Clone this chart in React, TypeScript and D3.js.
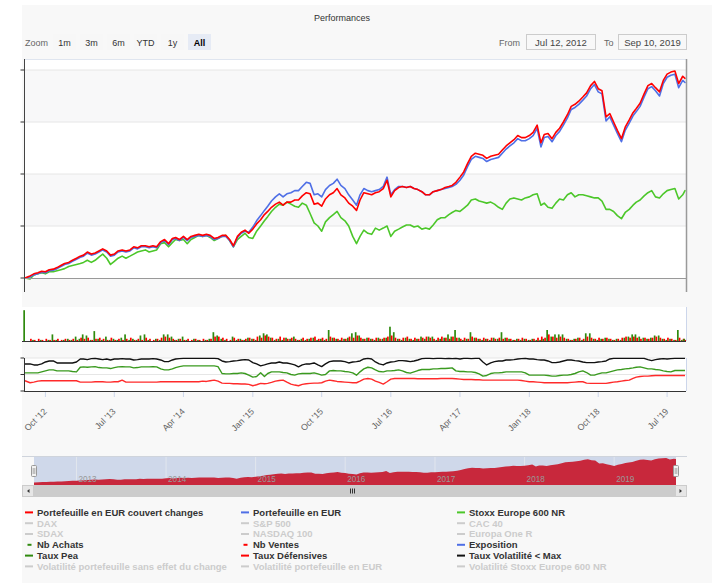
import React from "react";
import * as d3 from "d3";

// ---------- DATA ----------
const START = new Date(2012, 6, 12);
const END = new Date(2019, 8, 10);

function buildDates(): Date[] {
  const out: Date[] = [START];
  for (let y = 2012; y <= 2019; y++) {
    for (let m = 0; m < 12; m++) {
      if (y === 2012 && m < 7) continue;
      if (y === 2019 && m > 7) continue;
      out.push(new Date(y, m, 1), new Date(y, m, 16));
    }
  }
  out.push(new Date(2019, 8, 1), END);
  return out;
}
const dates = buildDates();

// Portefeuille en EUR couvert changes (%)
const portCouvert = [
  0, 2, 4, 5, 6.5, 6, 8, 8.5, 10, 12,
  14, 15, 17, 19, 21, 22, 25, 23, 24, 26,
  28, 26, 22, 23, 26, 27, 26, 27, 30, 29,
  31, 31, 30, 31, 30, 35, 37, 33, 38, 39,
  37, 40, 37, 40, 41, 42, 41, 42, 41, 38,
  39, 41, 41, 37, 31, 40, 44, 46, 43, 47,
  52, 56, 61, 64, 68, 71, 73, 70, 73, 73,
  75, 75, 79, 82, 81, 71, 72, 69, 76, 80,
  82, 86, 80, 77, 72, 69, 65, 75, 82, 81,
  80, 82, 83, 86, 94, 78, 84, 87, 88, 87,
  88, 86, 85, 83, 80, 80, 83, 84, 85, 87,
  88, 89, 92, 97, 102, 110, 117, 120, 119, 118,
  115, 117, 118, 119, 123, 127, 130, 133, 137, 135,
  135, 137, 140, 147, 130, 138, 139, 134, 140, 144,
  150, 157, 165, 167, 170, 174, 178, 185, 189, 182,
  180, 155, 158, 150, 142, 134, 145, 152, 159, 163,
  168, 177, 185, 187, 183, 179, 190, 196, 198, 199,
  187, 194, 192,
];

// Portefeuille en EUR (%)
const portEur = [
  0, 1, 3, 4, 5.5, 5, 7, 7.5, 9, 11,
  13, 14, 16, 18, 20, 21, 24, 22, 23, 25,
  27, 25, 21, 22, 25, 26, 25, 26, 29, 28,
  30, 30, 29, 30, 29, 34, 36, 32, 37, 38,
  36, 39, 36, 39, 40, 41, 40, 41, 40, 37,
  38, 40, 40, 36, 30, 39, 43, 45, 44, 49,
  55, 60, 65, 69, 74, 78, 81, 78, 81, 82,
  84, 84, 88, 92, 91, 80, 81, 78, 85, 89,
  91, 95, 89, 86, 80, 75, 70, 80, 86, 84,
  83, 84, 85, 88, 97, 80, 85, 88, 88, 87,
  88, 86, 85, 83, 80, 80, 83, 84, 85, 86,
  87, 88, 90, 94, 99, 107, 114, 117, 116, 115,
  112, 114, 115, 116, 120, 124, 127, 130, 134, 132,
  132, 134, 137, 144, 126, 135, 136, 131, 137, 141,
  147, 154, 162, 164, 167, 171, 175, 182, 186, 179,
  177, 151, 155, 147, 139, 131, 142, 149, 156, 160,
  165, 174, 182, 184, 180, 175, 187, 193, 195, 196,
  183, 190, 188,
];

// Stoxx Europe 600 NR (%)
const stoxx600 = [
  0, -1, 3, 4, 5, 4, 6, 6, 7, 8,
  9, 11, 12, 13, 14, 15, 17, 15, 17, 20,
  23, 19, 13, 16, 19, 21, 19, 21, 23, 25,
  26, 27, 25, 26, 27, 33, 34, 30, 34, 37,
  36, 37, 33, 37, 39, 41, 40, 41, 39, 36,
  38, 40, 41, 36, 30, 37, 40, 43, 39, 38,
  45, 50, 55, 59, 64, 68, 71, 70, 73, 71,
  69, 68, 72, 70, 62, 53, 50, 45, 54, 58,
  61, 64, 58, 55, 50, 40, 33, 40, 46, 43,
  42, 48, 46, 48, 50, 40, 45, 47, 49, 51,
  51, 49, 50, 47, 48, 47, 51, 56, 58, 58,
  61, 63, 65, 64, 67, 70, 75, 76, 74, 73,
  72, 73, 71, 68, 66, 72, 76, 77, 76, 75,
  77, 78, 80, 81, 70, 72, 68, 67, 72, 76,
  75, 80, 82, 78, 80, 80, 79, 78, 77, 77,
  74, 66, 66, 64, 60, 57, 63, 66, 70, 73,
  75, 79, 82, 84, 78, 77, 81, 84, 85, 86,
  76, 80, 84,
];

// Nb Achats
const nbAchats = [
  28, 0, 1, 0, 1, 0, 1, 6, 1, 0,
  1, 2, 1, 4, 2, 6, 5, 1, 9, 2,
  1, 4, 1, 2, 1, 3, 6, 1, 2, 1,
  5, 6, 1, 0, 2, 1, 6, 6, 4, 1,
  2, 4, 1, 0, 2, 1, 0, 1, 2, 8,
  5, 2, 1, 0, 4, 1, 2, 1, 3, 2,
  1, 5, 7, 6, 3, 1, 2, 1, 3, 2,
  4, 1, 2, 1, 2, 3, 1, 2, 1, 10,
  3, 2, 1, 2, 3, 7, 8, 5, 2, 3,
  2, 1, 3, 2, 3, 13, 8, 2, 1, 3,
  2, 1, 2, 4, 2, 4, 4, 1, 2, 3,
  6, 4, 10, 3, 1, 2, 8, 3, 2, 1,
  2, 1, 3, 2, 8, 3, 2, 1, 2, 1,
  2, 1, 2, 1, 1, 2, 10, 4, 6, 6,
  6, 2, 1, 2, 3, 1, 7, 7, 2, 1,
  2, 3, 2, 1, 2, 1, 3, 4, 6, 6,
  4, 3, 2, 3, 5, 5, 2, 1, 2, 1,
  10, 1, 2,
];

// Nb Ventes
const nbVentes = [
  0, 2, 1, 2, 1, 2, 1, 1, 2, 1,
  2, 1, 2, 1, 3, 2, 3, 1, 2, 3,
  2, 1, 3, 1, 2, 1, 2, 3, 1, 2,
  1, 3, 2, 1, 2, 3, 4, 3, 2, 1,
  2, 1, 2, 1, 2, 1, 2, 1, 2, 4,
  4, 3, 2, 1, 3, 2, 1, 2, 3, 2,
  4, 3, 5, 4, 3, 2, 4, 3, 2, 3,
  2, 1, 3, 2, 3, 4, 2, 3, 2, 4,
  3, 2, 3, 2, 4, 3, 5, 3, 2, 3,
  2, 3, 2, 3, 4, 5, 3, 2, 3, 4,
  2, 3, 2, 3, 4, 3, 2, 3, 4, 3,
  2, 4, 3, 2, 3, 2, 4, 3, 2, 3,
  2, 3, 2, 3, 2, 3, 2, 1, 2, 3,
  2, 1, 2, 3, 4, 3, 6, 4, 3, 4,
  3, 2, 1, 2, 3, 2, 4, 3, 2, 3,
  2, 3, 2, 1, 2, 3, 4, 3, 4, 3,
  2, 3, 2, 3, 4, 3, 2, 3, 2, 1,
  3, 2, 1,
];

// Taux Volatilité < Max (%)
const tauxVolMax = [
  82, 82, 79, 79, 82, 88, 91, 91, 85, 85,
  85, 85, 85, 88, 97, 97, 95, 98, 99, 97,
  95, 97, 94, 97, 97, 98, 97, 97, 94, 95,
  97, 97, 97, 98, 97, 94, 89, 89, 94, 97,
  98, 99, 99, 99, 99, 99, 99, 99, 99, 99,
  98, 91, 88, 89, 91, 92, 94, 95, 94, 86,
  82, 76, 79, 82, 85, 85, 88, 85, 85, 82,
  79, 73, 79, 82, 82, 85, 79, 74, 82, 89,
  91, 91, 91, 89, 85, 88, 89, 91, 97, 99,
  97, 88, 82, 79, 85, 88, 89, 92, 92, 91,
  89, 91, 94, 98, 99, 99, 98, 99, 99, 98,
  99, 98, 99, 97, 99, 99, 98, 99, 99, 88,
  79, 85, 89, 91, 91, 94, 94, 95, 97, 98,
  99, 97, 97, 95, 94, 94, 91, 86, 86, 88,
  91, 94, 94, 92, 91, 88, 86, 86, 86, 88,
  89, 91, 97, 99, 99, 99, 99, 99, 99, 99,
  99, 99, 95, 92, 95, 97, 98, 97, 98, 99,
  99, 99, 99,
];

// Taux Pea (%)
const tauxPea = [
  55, 55, 55, 55, 58, 61, 64, 64, 61, 61,
  61, 61, 59, 58, 72, 73, 72, 73, 74, 71,
  70, 70, 68, 71, 73, 74, 73, 73, 70, 71,
  73, 73, 73, 74, 73, 67, 64, 64, 67, 71,
  74, 76, 76, 76, 76, 76, 76, 76, 76, 76,
  74, 53, 52, 52, 53, 53, 55, 53, 48, 42,
  44, 55, 44, 53, 58, 58, 58, 56, 55, 50,
  48, 52, 53, 53, 53, 55, 52, 48, 50, 61,
  62, 61, 61, 59, 58, 55, 48, 58, 67, 72,
  70, 64, 59, 58, 61, 61, 62, 64, 61, 56,
  54, 58, 62, 65, 65, 65, 67, 67, 68, 68,
  69, 70, 61, 59, 59, 58, 58, 56, 52, 45,
  47, 53, 55, 55, 56, 58, 58, 58, 58, 58,
  55, 48, 48, 48, 48, 48, 47, 45, 45, 47,
  48, 48, 50, 53, 58, 61, 56, 48, 48, 52,
  55, 55, 58, 61, 64, 65, 67, 68, 70, 72,
  73, 70, 67, 67, 65, 64, 61, 59, 58, 62,
  62, 62, 62,
];

// Taux Défensives (%)
const tauxDefensives = [
  31, 25, 27, 30, 31, 31, 31, 31, 31, 31,
  31, 31, 31, 31, 27, 27, 27, 27, 28, 28,
  28, 27, 27, 28, 28, 33, 27, 27, 27, 27,
  27, 27, 27, 27, 27, 28, 28, 28, 28, 28,
  28, 28, 28, 28, 28, 28, 30, 29, 31, 33,
  30, 24, 23, 23, 22, 22, 21, 21, 20, 16,
  19, 23, 22, 23, 26, 30, 32, 33, 27, 21,
  18, 16, 20, 22, 23, 24, 24, 25, 30, 33,
  31, 29, 28, 27, 26, 25, 25, 30, 36, 38,
  36, 30, 26, 21, 28, 36, 38, 38, 38, 38,
  38, 38, 37, 37, 37, 37, 37, 37, 38, 38,
  38, 38, 37, 36, 35, 35, 35, 34, 34, 33,
  33, 33, 33, 33, 33, 33, 33, 33, 33, 32,
  30, 28, 28, 27, 26, 25, 25, 25, 25, 25,
  25, 25, 26, 27, 28, 28, 24, 23, 23, 23,
  23, 23, 25, 27, 28, 30, 32, 33, 38, 42,
  44, 45, 45, 46, 47, 47, 47, 47, 47, 47,
  47, 47, 47,
];

const mainTicks = [0, 50, 100, 150, 200];
const lowTicks = [0, 50, 100];
const xTickDates = [
  new Date(2012, 9, 1), new Date(2013, 6, 1), new Date(2014, 3, 1), new Date(2015, 0, 1),
  new Date(2015, 9, 1), new Date(2016, 6, 1), new Date(2017, 3, 1), new Date(2018, 0, 1),
  new Date(2018, 9, 1), new Date(2019, 6, 1),
];
const xTickLabels = ["Oct '12", "Jul '13", "Apr '14", "Jan '15", "Oct '15", "Jul '16", "Apr '17", "Jan '18", "Oct '18", "Jul '19"];
const navYears = [2013, 2014, 2015, 2016, 2017, 2018, 2019];
const zoomButtons = ["1m", "3m", "6m", "YTD", "1y", "All"];

const legendItems: { label: string; color: string; active: boolean; short?: boolean }[] = [
  { label: "Portefeuille en EUR couvert changes", color: "#ff0000", active: true },
  { label: "Portefeuille en EUR", color: "#4f6fe6", active: true },
  { label: "Stoxx Europe 600 NR", color: "#4cc72a", active: true },
  { label: "DAX", color: "#cccccc", active: false },
  { label: "S&P 500", color: "#cccccc", active: false },
  { label: "CAC 40", color: "#cccccc", active: false },
  { label: "SDAX", color: "#cccccc", active: false },
  { label: "NASDAQ 100", color: "#cccccc", active: false },
  { label: "Europa One R", color: "#cccccc", active: false },
  { label: "Nb Achats", color: "#2f8a0e", active: true, short: true },
  { label: "Nb Ventes", color: "#ff0000", active: true, short: true },
  { label: "Exposition", color: "#4f6fe6", active: true },
  { label: "Taux Pea", color: "#2f8a0e", active: true },
  { label: "Taux Défensives", color: "#ff0000", active: true },
  { label: "Taux Volatilité < Max", color: "#111111", active: true },
  { label: "Volatilité portefeuille sans effet du change", color: "#cccccc", active: false },
  { label: "Volatilité portefeuille en EUR", color: "#cccccc", active: false },
  { label: "Volatilité Stoxx Europe 600 NR", color: "#cccccc", active: false },
];

// ---------- CHART ----------
const FONT = '"Liberation Sans", Arial, Helvetica, sans-serif';

export default function App() {
  const x = d3.scaleTime().domain([START, END]).range([25, 685]);
  const yMain = d3.scaleLinear().domain([0, 200]).range([278, 70]);
  const yBar = d3.scaleLinear().domain([0, 30]).range([341, 308]);
  const yLow = d3.scaleLinear().domain([0, 100]).range([391, 358]);
  const xNav = d3.scaleTime().domain([START, END]).range([34, 676]);
  const yNav = d3.scaleLinear().domain([-20, 200]).range([485, 458]);

  const n = Math.min(dates.length, portCouvert.length);
  const idx = d3.range(n);

  const lineOf = (vals: number[], ys: d3.ScaleLinear<number, number>) =>
    d3.line<number>().x((i) => x(dates[i])).y((i) => ys(vals[i]))(idx.filter((i) => i < vals.length)) || "";

  const navArea =
    d3.area<number>().x((i) => xNav(dates[i])).y0(485).y1((i) => yNav(portCouvert[i]))(idx) || "";

  const colW = 1.7;
  const legendCols = [25, 241, 457];
  const legendRow0 = 515.7;
  const legendRowH = 10.8;

  return (
    <div style={{ position: "absolute", left: 0, top: 0 }}>
      <svg width={714} height={583} style={{ display: "block", fontFamily: FONT }}>
        <rect x={0} y={0} width={714} height={583} fill="#ffffff" />
        <rect x={22} y={5} width={690} height={578} fill="#f8f8f8" />

        {/* Title */}
        <text x={342} y={21} textAnchor="middle" fontSize={9} fill="#333333">Performances</text>

        {/* Range selector */}
        <text x={25} y={46} fontSize={9} fill="#666666">Zoom</text>
        {zoomButtons.map((b, i) => {
          const bx = 53 + i * 27;
          const sel = b === "All";
          return (
            <g key={b}>
              <rect x={bx} y={34} width={23} height={16} fill={sel ? "#e6ebf5" : "#f7f7f7"} />
              <text x={bx + 11.5} y={46} textAnchor="middle" fontSize={9} fill={sel ? "#000000" : "#333333"} fontWeight={sel ? "bold" : "normal"}>{b}</text>
            </g>
          );
        })}
        <text x={499} y={46} fontSize={9} fill="#666666">From</text>
        <rect x={526.5} y={34.5} width={69} height={15} fill="#f8f8f8" stroke="#cccccc" />
        <text x={561} y={46} textAnchor="middle" fontSize={9.5} fill="#444444">Jul 12, 2012</text>
        <text x={604} y={46} fontSize={9} fill="#666666">To</text>
        <rect x={618.5} y={34.5} width={68} height={15} fill="#f8f8f8" stroke="#cccccc" />
        <text x={652.5} y={46} textAnchor="middle" fontSize={9.5} fill="#444444">Sep 10, 2019</text>

        {/* Main plot */}
        <rect x={24} y={59} width={662} height={219} fill="#ffffff" />
        {mainTicks.slice(0, -1).map((t, i) =>
          i % 2 === 1 ? (
            <rect key={"band" + t} x={24} y={yMain(t + 50)} width={662} height={yMain(t) - yMain(t + 50)} fill="#f8f8f9" />
          ) : null
        )}
        <line x1={24} x2={686} y1={59.5} y2={59.5} stroke="#dfe5ef" />
        {mainTicks.map((t) => (
          <g key={"mt" + t}>
            {t > 0 && <line x1={24} x2={686} y1={yMain(t)} y2={yMain(t)} stroke="#e6e6e6" />}
            <line x1={20.5} x2={24} y1={yMain(t)} y2={yMain(t)} stroke="#333333" />
          </g>
        ))}
        <defs>
          <clipPath id="mainclip"><rect x={24} y={59} width={662} height={233} /></clipPath>
        </defs>
        <g clipPath="url(#mainclip)" fill="none" strokeLinejoin="round" strokeLinecap="round">
          <path d={lineOf(stoxx600, yMain)} stroke="#4cc72a" strokeWidth={1.6} />
          <path d={lineOf(portEur, yMain)} stroke="#4f6fe6" strokeWidth={1.6} />
          <path d={lineOf(portCouvert, yMain)} stroke="#ff0000" strokeWidth={1.6} />
        </g>
        <line x1={24} x2={686} y1={278.5} y2={278.5} stroke="#999999" />
        <line x1={24.5} x2={24.5} y1={59} y2={292} stroke="#444444" />
        <line x1={686.5} x2={686.5} y1={59} y2={292} stroke="#9a9a9a" strokeWidth={1.5} />

        {/* Bars panel */}
        <rect x={22} y={307} width={664} height={34} fill="#ffffff" />
        {idx.map((i) => {
          const cx = x(dates[i]);
          return (
            <g key={"bar" + i}>
              {nbAchats[i] > 0 && (
                <rect x={cx - colW} y={yBar(nbAchats[i])} width={colW} height={341 - yBar(nbAchats[i])} fill="#2f8a0e" />
              )}
              {nbVentes[i] > 0 && (
                <rect x={cx} y={yBar(nbVentes[i])} width={colW} height={341 - yBar(nbVentes[i])} fill="#ff0000" />
              )}
            </g>
          );
        })}
        <line x1={22} x2={686} y1={341.5} y2={341.5} stroke="#333333" />
        <line x1={686.5} x2={686.5} y1={307} y2={341} stroke="#ccd6eb" />

        {/* Lower panel */}
        <rect x={24} y={358} width={662} height={33} fill="#ffffff" />
        {lowTicks.map((t) => (
          <g key={"lt" + t}>
            {t > 0 && <line x1={24} x2={686} y1={yLow(t)} y2={yLow(t)} stroke="#e6e6e6" />}
            <line x1={20.5} x2={24} y1={yLow(t)} y2={yLow(t)} stroke="#333333" />
          </g>
        ))}
        <g fill="none" strokeLinejoin="round">
          <path d={lineOf(tauxDefensives, yLow)} stroke="#ff2a2a" strokeWidth={1.4} />
          <path d={lineOf(tauxPea, yLow)} stroke="#3a9a1f" strokeWidth={1.4} />
          <path d={lineOf(tauxVolMax, yLow)} stroke="#111111" strokeWidth={1.4} />
        </g>
        <line x1={24.5} x2={24.5} y1={358} y2={391} stroke="#333333" />
        <line x1={24} x2={686} y1={391.5} y2={391.5} stroke="#333333" />
        <line x1={686.5} x2={686.5} y1={358} y2={391} stroke="#ccd6eb" />

        {/* X axis ticks and labels */}
        {xTickDates.map((d, i) => {
          const tx = x(d);
          return (
            <g key={"xt" + i}>
              <line x1={tx} x2={tx} y1={392} y2={397} stroke="#ccd6eb" />
              <text
                x={tx + 2}
                y={412}
                textAnchor="end"
                fontSize={8.8}
                fill="#666666"
                transform={`rotate(-45 ${tx + 2} 412)`}
              >
                {xTickLabels[i]}
              </text>
            </g>
          );
        })}

        {/* Navigator */}
        <rect x={34} y={456} width={642} height={29} fill="#cfd8ea" />
        {navYears.map((yr) => {
          const gx = xNav(new Date(yr, 0, 1));
          return <line key={"ng" + yr} x1={gx} x2={gx} y1={456} y2={485} stroke="#e2e6ee" />;
        })}
        <path d={navArea} fill="#c8283c" />
        {navYears.map((yr) => {
          const gx = xNav(new Date(yr, 0, 1));
          return (
            <text key={"nl" + yr} x={gx + 2} y={482} fontSize={8.2} fill="#999999">{yr}</text>
          );
        })}
        <line x1={22} x2={687} y1={456.5} y2={456.5} stroke="#cfd4dc" />

        {/* Scrollbar */}
        <rect x={22} y={485} width={665} height={12} fill="#cccccc" />
        <rect x={22.5} y={485.5} width={11} height={11} fill="#e6e6e6" stroke="#cccccc" />
        <rect x={675.5} y={485.5} width={11} height={11} fill="#e6e6e6" stroke="#cccccc" />
        <path d="M29.5,489 L27,491 L29.5,493 Z" fill="#333333" />
        <path d="M679.5,489 L682,491 L679.5,493 Z" fill="#333333" />
        {[-2, 0, 2].map((o) => (
          <line key={"gr" + o} x1={352 + o + 0.5} x2={352 + o + 0.5} y1={488.5} y2={493.5} stroke="#333333" />
        ))}

        {/* Navigator handles */}
        {[34, 676].map((hx) => (
          <g key={"h" + hx}>
            <rect x={hx - 2.5} y={465.5} width={5} height={11} rx={1} fill="#f2f2f2" stroke="#999999" />
            <line x1={hx - 0.8} x2={hx - 0.8} y1={468} y2={474} stroke="#999999" strokeWidth={0.8} />
            <line x1={hx + 0.8} x2={hx + 0.8} y1={468} y2={474} stroke="#999999" strokeWidth={0.8} />
          </g>
        ))}

        {/* Legend */}
        {legendItems.map((it, i) => {
          const col = i % 3;
          const row = Math.floor(i / 3);
          const lx = legendCols[col];
          const ly = legendRow0 + row * legendRowH;
          return (
            <g key={"lg" + i}>
              {it.short ? (
                <line x1={lx + 2.5} x2={lx + 6.5} y1={ly - 3.3} y2={ly - 3.3} stroke={it.active ? it.color : "#cccccc"} strokeWidth={2} />
              ) : (
                <line x1={lx} x2={lx + 8} y1={ly - 3.3} y2={ly - 3.3} stroke={it.active ? it.color : "#cccccc"} strokeWidth={2} />
              )}
              <text x={lx + 12} y={ly} fontSize={9.5} fontWeight="bold" fill={it.active ? "#333333" : "#cccccc"}>{it.label}</text>
            </g>
          );
        })}
      </svg>
    </div>
  );
}
